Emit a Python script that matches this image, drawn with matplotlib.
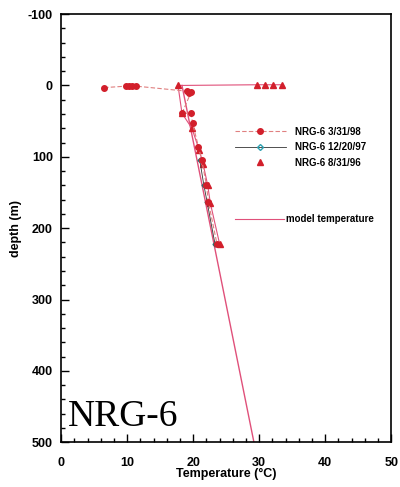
import matplotlib.pyplot as plt
from matplotlib.ticker import MultipleLocator
from matplotlib.lines import Line2D

# NRG-6 3/31/98 (red circles)
t_98 = [6.5, 9.8, 10.3, 10.8, 11.4, 19.0, 19.4, 19.7, 18.3, 19.7, 19.9, 20.8, 21.3, 22.0, 22.3, 23.6]
d_98 = [3, 1, 1, 1, 1, 8, 10, 9, 39, 39, 53, 86, 105, 139, 163, 222]
# NRG-6 12/20/97 (diamonds)
t_97 = [21.0, 21.6, 22.1, 23.3]
d_97 = [105, 139, 163, 222]
# NRG-6 8/31/96 (triangles)
t_96 = [33.5, 32.1, 30.9, 29.7, 17.7, 18.3, 19.8, 20.9, 21.5, 22.2, 22.6, 24.0]
d_96 = [-1, -1, -1, -1, 0, 39, 60, 90, 110, 140, 165, 222]
# model temperature
t_model = [18.3, 29.2]
d_model = [0, 500]

red = "#d21f2b"
pink = "#e0507a"

plt.rcParams["font.family"] = ["Liberation Sans", "DejaVu Sans"]
plt.rcParams["axes.unicode_minus"] = False
fig = plt.figure(figsize=(4.0, 4.87), dpi=100)
ax = fig.add_axes([0.153, 0.092, 0.825, 0.879])

ax.plot(t_model, d_model, color=pink, lw=1.0)
ax.plot(t_96, d_96, color=pink, lw=0.8, marker="^", ms=4, mfc=red, mec=red)
ax.plot(t_97, d_97, color="#333333", lw=0.6, ls="-", marker="D", ms=2.5,
        mfc="none", mec="#2a6f6f")
ax.plot(t_98, d_98, color="#e08080", lw=0.8, ls=(0, (4, 2)), marker="o",
        ms=4, mfc=red, mec=red)

ax.set_xlim(0, 50)
ax.set_ylim(500, -100)
ax.xaxis.set_major_locator(MultipleLocator(10))
ax.xaxis.set_minor_locator(MultipleLocator(2))
ax.yaxis.set_major_locator(MultipleLocator(100))
ax.yaxis.set_minor_locator(MultipleLocator(20))
ax.tick_params(which="both", direction="in", width=1.0)
ax.tick_params(which="major", length=6, labelsize=9)
ax.tick_params(which="minor", length=3)
ax.tick_params(axis="x", pad=11)
ax.tick_params(axis="y", pad=6)
for lab in ax.get_xticklabels() + ax.get_yticklabels():
    lab.set_fontweight("bold")
for s in ax.spines.values():
    s.set_linewidth(1.2)

ax.set_xlabel("Temperature (°C)", fontsize=9, fontweight="bold", labelpad=-1)
ax.set_ylabel("depth (m)", fontsize=9, fontweight="bold", labelpad=4)

h1 = [
    Line2D([], [], color="#e08080", lw=0.8, ls=(0, (4, 2)), marker="o", ms=4, mfc=red, mec=red),
    Line2D([], [], color="#333333", lw=0.6, marker="D", ms=3, mfc="none", mec="#2aa0b0"),
    Line2D([], [], color="none", marker="^", ms=4, mfc=red, mec=red),
]
leg1 = ax.legend(h1, ["NRG-6 3/31/98", "NRG-6 12/20/97", "NRG-6 8/31/96"],
                 loc="upper left", bbox_to_anchor=(0.50, 0.757), frameon=False,
                 handlelength=5.2, handletextpad=1.0, labelspacing=0.55,
                 prop={"weight": "bold", "size": 7})
ax.add_artist(leg1)
h2 = [Line2D([], [], color=pink, lw=0.8)]
ax.legend(h2, ["model temperature"], loc="upper left",
          bbox_to_anchor=(0.50, 0.553), frameon=False, handlelength=5.0,
          handletextpad=0.3, prop={"weight": "bold", "size": 7})

ax.text(0.02, 0.02, "NRG-6", transform=ax.transAxes, fontsize=27,
        family=["Liberation Serif", "DejaVu Serif"], va="bottom", ha="left")

fig.savefig("out.png", dpi=100)
